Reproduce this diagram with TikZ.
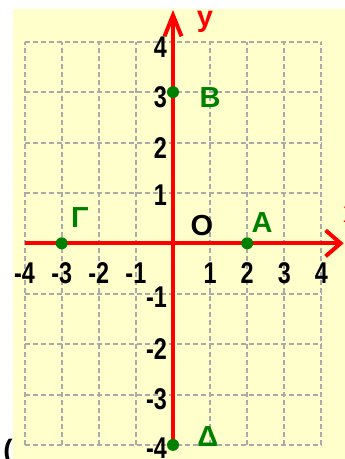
\documentclass[tikz,border=0pt]{standalone}
\usepackage{fontspec}
\setmainfont{Liberation Sans}
\usetikzlibrary{arrows.meta}
\definecolor{paper}{RGB}{255,255,204}
\definecolor{ptgreen}{RGB}{0,128,0}
\definecolor{gridgray}{RGB}{170,170,170}
\tikzset{
  gridline/.style={gridgray, line width=2pt, dash pattern=on 5pt off 3pt},
  axis/.style={red, line width=4pt},
  num/.style={font=\fontsize{30}{30}\selectfont\bfseries, xscale=0.78, inner sep=0pt},
  ptlabel/.style={ptgreen, font=\fontsize{29}{29}\selectfont\bfseries, inner sep=0pt},
  pt/.style={circle, fill=ptgreen, minimum size=12pt, inner sep=0pt},
}
\begin{document}
\begin{tikzpicture}[x=37.1pt, y=50.4pt]
    \useasboundingbox (-4.6631,-4.2798) rectangle (4.6361,4.8274);
    \fill[paper] (-4.3127,-4.2798) rectangle (4.6361,4.6488);
    \draw[gridline, step={(1,1)}] (-4,-4) grid (4,4);
    % axes
    \coordinate (xstart) at (-4, 0);
    \coordinate (xtip) at (4.60, 0);
    \coordinate (ystart) at (0, -4);
    \coordinate (ytip) at (0, 4.63);
    \draw [axis, -{Straight Barb[length=15pt, width=26pt]}] (xstart) -- (xtip);
    \draw [axis, -{Straight Barb[length=21pt, width=17pt]}] (ystart) -- (ytip);
    \node[red, font=\fontsize{29}{29}\selectfont\bfseries] (ylab) at (0.86, 4.39) {y};
    \node[red, font=\fontsize{29}{29}\selectfont\bfseries, anchor=west] (xlab) at (4.50, 0.56) {x};
    % numbers on the y axis
    \node[num, anchor=east] (ya) at (-0.16, 3.9) {4};
    \node[num, anchor=east] (yb) at (-0.16, 2.9) {3};
    \node[num, anchor=east] (yc) at (-0.16, 1.9) {2};
    \node[num, anchor=east] (yd) at (-0.16, 0.95) {1};
    \node[num, anchor=east] (ye) at (-0.16, -1.07) {-1};
    \node[num, anchor=east] (yf) at (-0.16, -2.1) {-2};
    \node[num, anchor=east] (yg) at (-0.16, -3.1) {-3};
    \node[num, anchor=east] (yh) at (-0.16, -4.06) {-4};
    % numbers on the x axis
    \node[num] (xa) at (-4, -0.59) {-4};
    \node[num] (xb) at (-3, -0.59) {-3};
    \node[num] (xc) at (-2, -0.59) {-2};
    \node[num] (xd) at (-1, -0.59) {-1};
    \node[num] (xe) at (1, -0.59) {1};
    \node[num] (xf) at (2, -0.59) {2};
    \node[num] (xg) at (3, -0.59) {3};
    \node[num] (xh) at (4, -0.59) {4};
    % points
    \node[pt] (A) at (2, 0) {};
    \node[pt] (B) at (0, 3) {};
    \node[pt] (G) at (-3, 0) {};
    \node[pt] (D) at (0, -4) {};
    \node[ptlabel] (Alab) at (2.40, 0.42) {Α};
    \node[ptlabel] (Blab) at (1.00, 2.90) {Β};
    \node[ptlabel] (Glab) at (-2.51, 0.52) {Γ};
    \node[ptlabel] (Dlab) at (0.94, -3.84) {Δ};
    \node[font=\fontsize{29}{29}\selectfont\bfseries, inner sep=0pt] (Olab) at (0.78, 0.35) {Ο};
    \node[font=\fontsize{28}{28}\selectfont\bfseries, inner sep=0pt, anchor=north] (paren) at (-4.447, -3.88) {(};
\end{tikzpicture}
\end{document}
